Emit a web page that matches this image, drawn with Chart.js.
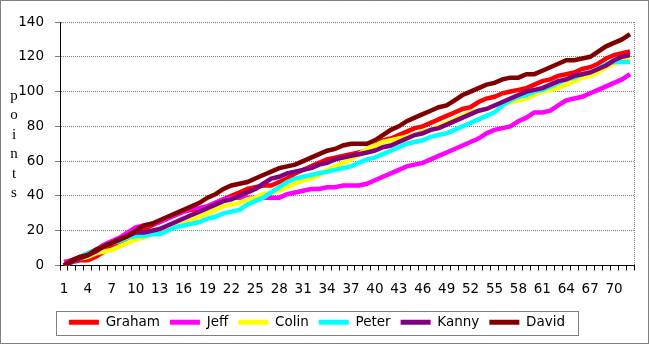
<!DOCTYPE html>
<html>
<head>
<meta charset="utf-8">
<title>points</title>
<script src="https://cdn.jsdelivr.net/npm/chart.js@4/dist/chart.umd.min.js"></script>
<style>
  body { margin: 0; background: #fff; }
  #wrap { position: relative; width: 649px; height: 344px; }
</style>
</head>
<body>
<div id="wrap"><canvas id="canvas" width="649" height="344"></canvas></div>
<script>
// rounds 1..72
var rounds = Array.from({length: 72}, function(_, i){ return String(i + 1); });
var yTicks = [0, 20, 40, 60, 80, 100, 120, 140];
var names = ["Graham", "Jeff", "Colin", "Peter", "Kanny", "David"];
var colors = ["#FF0000", "#FF00FF", "#FFFF00", "#00FFFF", "#800080", "#800000"];

var graham = [0,2,3,3,5,8,11,13,16,19,21,23,25,27,29,31,32,33,34,36,38,40,42,44,45,46,46,48,50,53,55,57,59,61,62,63,64,65,66,69,72,73,75,77,79,80,82,84,86,88,90,91,94,96,97,99,100,101,102,104,106,107,109,110,111,113,114,116,119,121,122,123];
var jeff   = [2,3,5,7,9,12,14,16,19,22,23,24,25,27,29,31,33,33,34,36,38,39,39,39,39,39,39,39,41,42,43,44,44,45,45,46,46,46,47,49,51,53,55,57,58,59,61,63,65,67,69,71,73,76,78,79,80,83,85,88,88,89,92,95,96,97,99,101,103,105,107,110];
var colin  = [0,2,4,5,7,8,9,11,13,15,16,18,19,21,23,24,26,28,30,32,34,35,36,38,39,41,42,43,45,47,49,50,52,55,57,59,61,64,67,69,71,72,73,74,75,77,78,80,82,84,86,88,89,90,92,93,94,95,96,98,100,101,102,104,106,108,109,111,114,116,118,119];
var peter  = [0,2,5,7,9,11,13,14,16,17,17,18,18,20,22,23,24,25,27,28,30,31,32,35,37,39,42,45,48,50,51,52,53,54,55,56,57,59,61,62,64,66,68,70,71,72,74,75,76,78,80,82,84,86,88,92,95,97,98,100,101,103,105,107,108,110,111,113,116,117,117,117];
var kanny  = [0,2,4,6,8,11,13,15,17,19,19,20,21,23,25,27,29,31,33,35,37,38,40,42,44,47,50,51,53,54,55,56,58,59,61,62,63,64,65,66,68,69,71,73,75,76,78,79,81,83,85,87,89,90,92,94,96,98,100,101,102,104,106,107,109,110,111,113,115,118,120,121];
var david  = [0,3,5,6,9,11,13,15,17,20,23,24,26,28,30,32,34,36,39,41,44,46,47,48,50,52,54,56,57,58,60,62,64,66,67,69,70,70,70,72,75,78,80,83,85,87,89,91,92,95,98,100,102,104,105,107,108,108,110,110,112,114,116,118,118,119,120,123,126,128,130,133];

var series = [graham, jeff, colin, peter, kanny, david];

var FONT = "'DejaVu Sans', Verdana, sans-serif";

var datasets = [];
for (var i = 0; i < names.length; i++) {
    datasets.push({
        label: names[i],
        data: series[i],
        borderColor: colors[i],
        backgroundColor: colors[i],
        borderWidth: 4.5,
        pointRadius: 0,
        tension: 0,
        order: names.length - i   // later series drawn on top, like the original
    });
}

// frame, plot border, legend box and the stacked axis title
var extras = {
    id: 'extras',
    afterDraw: function(chart) {
        var ctx = chart.ctx;
        var a = chart.chartArea;
        ctx.save();
        // plot area right edge (dotted gray)
        ctx.strokeStyle = '#808080';
        ctx.lineWidth = 1;
        ctx.setLineDash([1, 1]);
        ctx.beginPath();
        ctx.moveTo(a.right + 0.5, a.top);
        ctx.lineTo(a.right + 0.5, a.bottom);
        ctx.stroke();
        // outer frame
        ctx.strokeStyle = '#000';
        ctx.strokeRect(0.5, 0.5, chart.width - 1, chart.height - 1);
        // legend box
        var hb = chart.legend.legendHitBoxes;
        if (hb && hb.length) {
            var first = hb[0], last = hb[hb.length - 1];
            var x1 = first.left - 13, x2 = last.left + last.width + 13;
            var y1 = first.top - 5, y2 = first.top + first.height + 5;
            ctx.setLineDash([]);
            ctx.strokeStyle = '#808080';
            ctx.strokeRect(Math.round(x1) + 0.5, Math.round(y1) + 0.5, Math.round(x2 - x1), Math.round(y2 - y1));
        }
        // "points" written top to bottom
        ctx.fillStyle = '#000';
        ctx.font = "15px 'Liberation Serif', 'DejaVu Serif', serif";
        ctx.textAlign = 'center';
        ctx.textBaseline = 'middle';
        var word = 'points';
        for (var k = 0; k < word.length; k++) {
            ctx.fillText(word[k], 14, 96 + k * 19.4);
        }
        ctx.restore();
    }
};

var ctx = document.getElementById('canvas');

var lineChart = new Chart(ctx, {
    type: 'line',
    data: {
        labels: rounds,
        datasets: datasets
    },
    plugins: [extras],
    options: {
        responsive: false,
        animation: false,
        events: [],
        layout: {
            padding: { left: 0, top: 22, right: 15, bottom: 5 }
        },
        scales: {
            x: {
                offset: true,
                grid: {
                    display: true,
                    offset: true,
                    drawOnChartArea: false,
                    drawTicks: true,
                    tickLength: 5,
                    tickColor: '#000',
                    color: '#000'
                },
                border: { display: true, color: '#000', width: 1 },
                ticks: {
                    autoSkip: false,
                    maxRotation: 0,
                    minRotation: 0,
                    padding: 11,
                    color: '#000',
                    font: { family: FONT, size: 13.5 },
                    callback: function(val, idx) {
                        return idx % 3 === 0 ? rounds[idx] : '';
                    }
                },
                afterFit: function(scale) { scale.height = 40; }
            },
            y: {
                min: 0,
                max: 140,
                afterBuildTicks: function(scale) {
                    scale.ticks = yTicks.map(function(v){ return {value: v}; });
                },
                grid: {
                    color: '#808080',
                    tickLength: 5,
                    tickColor: '#808080'
                },
                border: { display: true, color: '#000', width: 1, dash: [1, 1] },
                ticks: {
                    padding: 11,
                    color: '#000',
                    font: { family: FONT, size: 13.5 }
                },
                afterFit: function(scale) { scale.width = 60; }
            }
        },
        plugins: {
            tooltip: { enabled: false },
            legend: {
                position: 'bottom',
                labels: {
                    boxWidth: 30,
                    boxHeight: 5,
                    padding: 10,
                    color: '#000',
                    font: { family: FONT, size: 13.5 },
                    sort: function(a, b) { return a.datasetIndex - b.datasetIndex; },
                    generateLabels: function(chart) {
                        var items = Chart.defaults.plugins.legend.labels.generateLabels(chart);
                        items.forEach(function(it){ it.lineWidth = 0; });
                        return items;
                    }
                }
            }
        }
    }
});
</script>
</body>
</html>
